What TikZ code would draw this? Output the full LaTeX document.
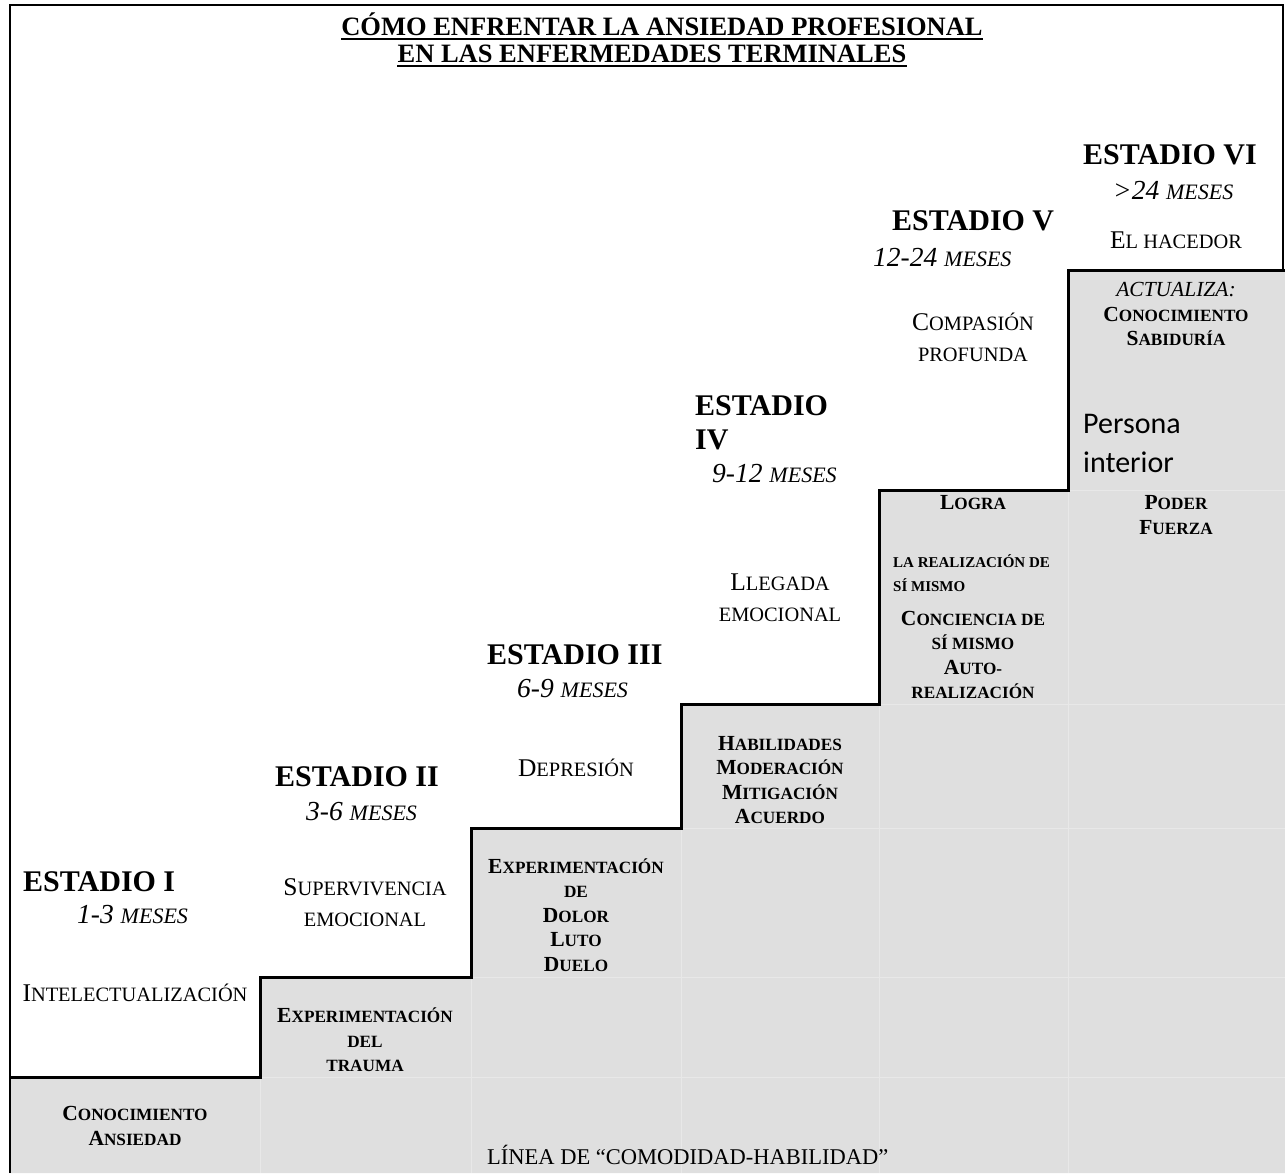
\documentclass[tikz,border=0pt]{standalone}
\usepackage{fontspec}
\setmainfont{Liberation Serif}
\newfontfamily\calibri{Carlito}
\usetikzlibrary{positioning}

\definecolor{cellgray}{RGB}{223,223,223}
\definecolor{cellline}{RGB}{232,232,232}

\makeatletter
\newcommand\lo[1]{{\@tempdima=\f@size pt\relax\fontsize{0.8\@tempdima}{\f@baselineskip}\selectfont#1}}
\makeatother

\tikzset{
  stage/.style={font=\fontsize{30}{34}\selectfont\bfseries, anchor=west, align=left, inner sep=0pt},
  months/.style={font=\fontsize{27.5}{30}\selectfont\itshape, anchor=west, inner sep=0pt},
  feel/.style={font=\fontsize{25.5}{31}\selectfont, align=center, inner sep=0pt},
  gbox/.style={font=\fontsize{21.5}{24.5}\selectfont\bfseries, align=center, inner sep=0pt},
  gsmall/.style={font=\fontsize{15}{24}\selectfont\bfseries, align=left, anchor=west, inner sep=0pt},
  title/.style={font=\fontsize{26.5}{28}\selectfont\bfseries, anchor=base, inner sep=0pt},
}

\begin{document}
\begin{tikzpicture}[x=1pt, y=-1pt, thin]
  \useasboundingbox (0,0) rectangle (1285,1173);
  \fill[cellgray] (10,1077) -| (260,977) -| (471,828) -| (681,704) -| (879,490) -| (1068,270)
    -- (1285,270) -- (1285,1173) -- (10,1173) -- cycle;
  \foreach \x/\y in {260/977, 471/828, 681/704, 879/490, 1068/270}
    \draw[cellline, line width=1pt] (\x,\y) -- (\x,1173);
  \foreach \x/\y in {260/1077, 471/977, 681/828, 879/704, 1068/490}
    \draw[cellline, line width=1pt] (\x,\y) -- (1285,\y);
  \draw[line width=2pt] (10,1173) |- (1283,5) -- (1283,270);
  \draw[line width=3pt] (10,1077) -| (260,977) -| (471,828) -| (681,704) -| (879,490) -| (1068,270) -- (1285,270);

  \node[title] (t1) at (662,35) {CÓMO ENFRENTAR LA ANSIEDAD PROFESIONAL};
  \node[title] (t2) at (652,62) {EN LAS ENFERMEDADES TERMINALES};
  \draw[line width=2.5pt] ([yshift=-4pt]t1.base west) -- ([yshift=-4pt]t1.base east);
  \draw[line width=2.5pt] ([yshift=-4pt]t2.base west) -- ([yshift=-4pt]t2.base east);

  \node[stage] (e1) at (23,882) {ESTADIO I};
  \node[months] (m1) at (77,915) {1-3 \lo{MESES}};
  \node[feel] (f1) at (135,993) {I\lo{NTELECTUALIZACIÓN}};
  \node[gbox] (g1) at (135,1126) {C\lo{ONOCIMIENTO}\\A\lo{NSIEDAD}};

  \node[stage] (e2) at (275,777) {ESTADIO II};
  \node[months] (m2) at (306,812) {3-6 \lo{MESES}};
  \node[feel] (f2) at (365,903) {S\lo{UPERVIVENCIA}\\\lo{EMOCIONAL}};
  \node[gbox] (g2) at (365,1040) {E\lo{XPERIMENTACIÓN}\\\lo{DEL}\\\lo{TRAUMA}};

  \node[stage] (e3) at (487,655) {ESTADIO III};
  \node[months] (m3) at (517,689) {6-9 \lo{MESES}};
  \node[feel] (f3) at (576,768) {D\lo{EPRESIÓN}};
  \node[gbox] (g3) at (576,915) {E\lo{XPERIMENTACIÓN}\\\lo{DE}\\D\lo{OLOR}\\L\lo{UTO}\\D\lo{UELO}};

  \node[stage] (e4) at (695,423) {ESTADIO\\IV};
  \node[months] (m4) at (712,474) {9-12 \lo{MESES}};
  \node[feel] (f4) at (780,598) {L\lo{LEGADA}\\\lo{EMOCIONAL}};
  \node[gbox] (g4) at (780,780) {H\lo{ABILIDADES}\\M\lo{ODERACIÓN}\\M\lo{ITIGACIÓN}\\A\lo{CUERDO}};

  \node[stage] (e5) at (892,221) {ESTADIO V};
  \node[months] (m5) at (873,257) {12-24 \lo{MESES}};
  \node[feel] (f5) at (973,337) {C\lo{OMPASIÓN}\\\lo{PROFUNDA}};
  \node[gbox] (g5a) at (973,503) {L\lo{OGRA}};
  \node[gsmall] (g5b) at (893,573) {LA REALIZACIÓN DE\\SÍ MISMO};
  \node[gbox] (g5c) at (973,655) {C\lo{ONCIENCIA DE}\\\lo{SÍ MISMO}\\A\lo{UTO-}\\\lo{REALIZACIÓN}};

  \node[stage] (e6) at (1083,155) {ESTADIO VI};
  \node[months] (m6) at (1113,190) {>24 \lo{MESES}};
  \node[feel] (f6) at (1176,240) {E\lo{L HACEDOR}};
  \node[gbox] (g6a) at (1176,314) {{\mdseries\itshape ACTUALIZA:}\\C\lo{ONOCIMIENTO}\\S\lo{ABIDURÍA}};
  \node[anchor=west, align=left, inner sep=0pt, font=\calibri\fontsize{30}{39}\selectfont] (p6) at (1083,443) {Persona\\interior};
  \node[gbox] (g6b) at (1176,515) {P\lo{ODER}\\F\lo{UERZA}};

  \node[anchor=west, inner sep=0pt, font=\fontsize{22.5}{26}\selectfont] (cl) at (487,1155) {LÍNEA DE “COMODIDAD-HABILIDAD”};
\end{tikzpicture}
\end{document}
